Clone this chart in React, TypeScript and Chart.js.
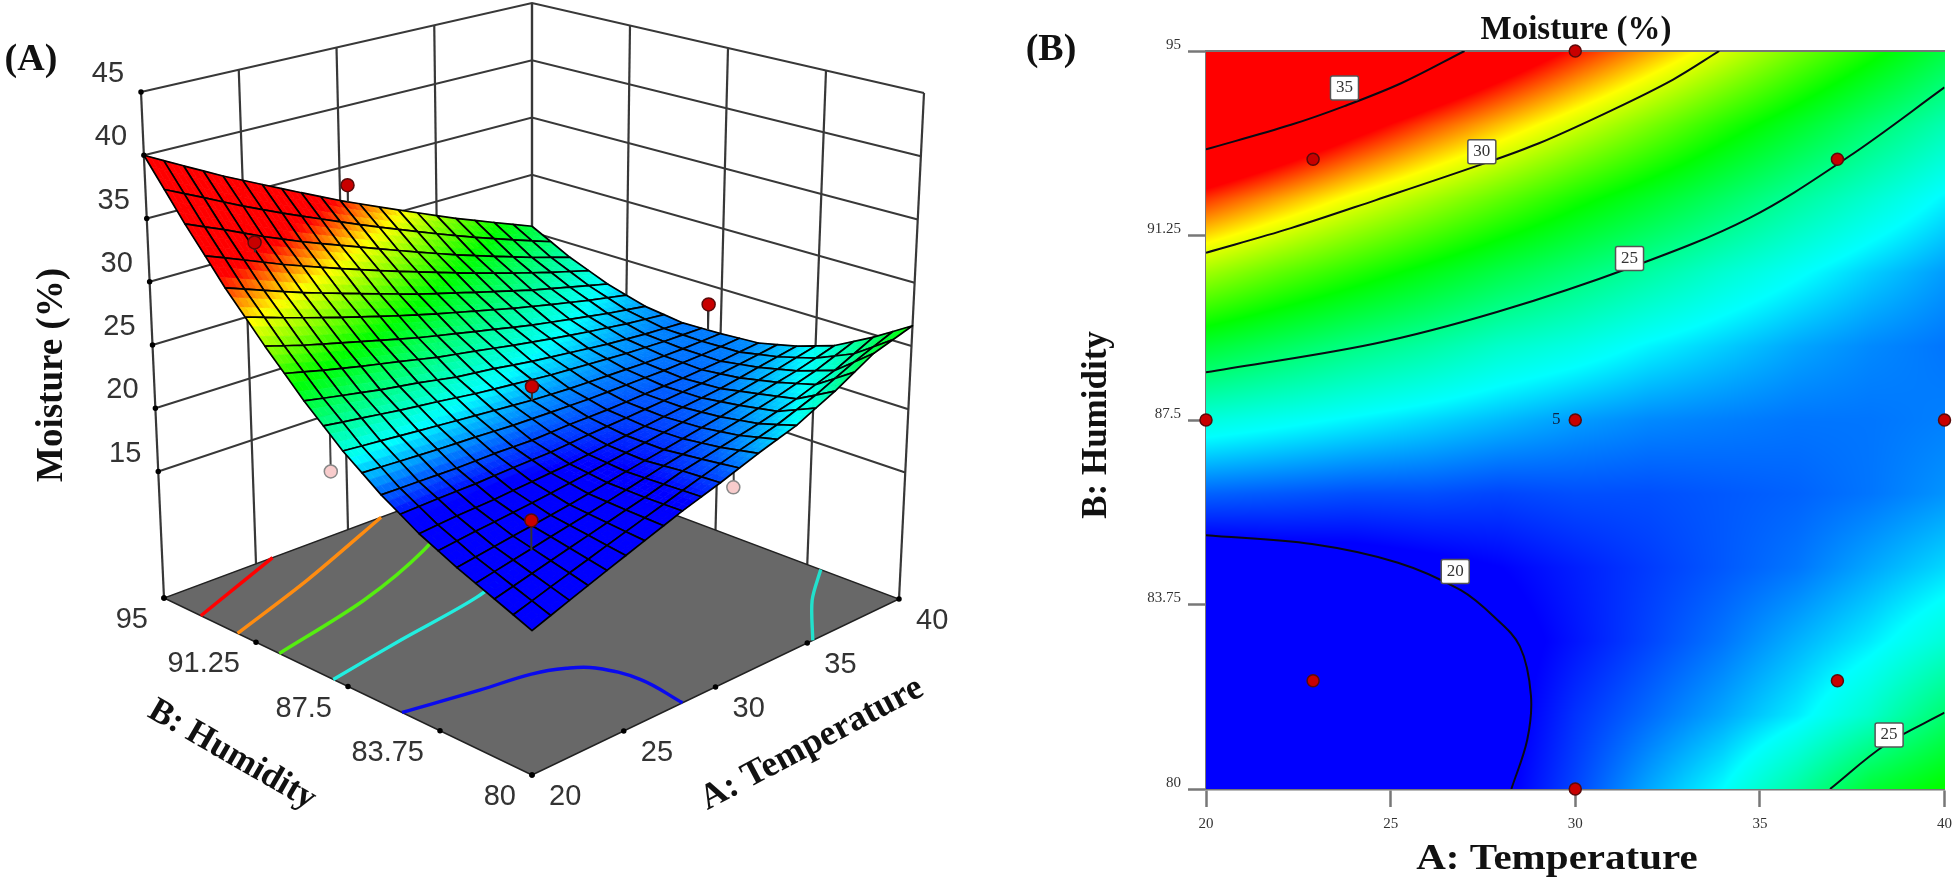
import React, { useEffect, useRef } from 'react';
import { Chart, registerables } from 'chart.js';

Chart.register(...registerables);

// ---------- data ----------
const temperatureNodes = [20, 22, 24, 26, 28, 30, 32, 34, 36, 38, 40];
const humidityNodes = [80, 81.5, 83, 84.5, 86, 87.5, 89, 90.5, 92, 93.5, 95];
const moistureH80 = [15.8, 16.8, 17.8, 18.8, 19.8, 20.7, 21.7, 22.6, 24.0, 25.7, 26.6];
const moistureH815 = [16.9, 17.6, 18.3, 19.0, 19.7, 20.5, 21.1, 21.7, 22.4, 23.4, 24.8];
const moistureH83 = [18.0, 18.4, 18.8, 19.2, 19.7, 20.2, 20.7, 21.2, 21.8, 22.4, 23.2];
const moistureH845 = [19.3, 19.5, 19.6, 19.8, 20.0, 20.3, 20.6, 20.9, 21.2, 21.7, 22.2];
const moistureH86 = [21.0, 20.9, 20.8, 20.8, 20.7, 20.8, 20.8, 20.9, 21.0, 21.2, 21.5];
const moistureH875 = [23.1, 22.8, 22.5, 22.2, 21.9, 21.6, 21.4, 21.3, 21.2, 21.2, 21.3];
const moistureH89 = [25.7, 25.1, 24.5, 24.0, 23.4, 23.0, 22.5, 22.1, 21.7, 21.4, 21.2];
const moistureH905 = [28.7, 27.8, 27.0, 26.2, 25.4, 24.7, 24.0, 23.3, 22.7, 22.1, 21.6];
const moistureH92 = [32.0, 30.9, 29.8, 28.8, 27.8, 26.8, 25.9, 25.0, 24.1, 23.3, 22.5];
const moistureH935 = [35.8, 34.5, 33.1, 31.8, 30.6, 29.4, 28.2, 27.0, 25.9, 24.8, 23.8];
const moistureH95 = [40.0, 38.4, 36.8, 35.3, 33.8, 32.3, 30.9, 29.5, 28.1, 26.8, 25.5];
const moistureRows = [moistureH80, moistureH815, moistureH83, moistureH845, moistureH86, moistureH875, moistureH89, moistureH905, moistureH92, moistureH935, moistureH95];

const temperatureTicks = [20, 25, 30, 35, 40];
const humidityTicks = [80, 83.75, 87.5, 91.25, 95];
const moistureTicks = [15, 20, 25, 30, 35, 40, 45];

// contours of panel B
const contour35T = [20, 22.3, 23.75, 25.3, 27];
const contour35H = [93.0, 93.5, 93.88, 94.35, 95];
const contour30T = [20, 22.3, 24.6, 27.4, 29, 31, 32.65, 33.9];
const contour30H = [90.9, 91.4, 91.97, 92.68, 93.12, 93.8, 94.42, 95];
const contour25UpperT = [20, 24.55, 27.9, 31.5, 34.7, 37.4, 40];
const contour25UpperH = [88.47, 89.05, 89.7, 90.6, 91.6, 92.85, 94.26];
const contour25LowerT = [36.9, 38.4, 40];
const contour25LowerH = [80, 80.9, 81.55];
const contour20T = [20, 22.87, 25.2, 26.9, 27.8, 28.5, 28.8, 28.7, 28.27];
const contour20H = [85.16, 84.98, 84.6, 84.04, 83.5, 82.9, 81.9, 81, 80];
const contourLabelText = ['35', '30', '25', '20', '25'];
const contourLabelT = [23.75, 27.47, 31.47, 26.75, 38.5];
const contourLabelH = [94.25, 92.95, 90.78, 84.42, 81.1];

const designT = [30, 22.9, 37.1, 20, 30, 40, 22.9, 37.1, 30];
const designH = [95, 92.8, 92.8, 87.5, 87.5, 87.5, 82.2, 82.2, 80];

// contours on the floor of panel A
const floorRedT = [20, 25.9];
const floorRedH = [93.5, 95];
const floorOrangeT = [20, 25.5, 31.8];
const floorOrangeH = [92, 93.26, 95];
const floorGreenT = [20, 25.8, 30.8, 36];
const floorGreenH = [90.3, 91.2, 92.5, 94.5];
const floorCyanT = [20, 24.3, 29.2, 33];
const floorCyanH = [88.1, 88.6, 89.14, 90];
const floorBlueT = [20, 23.5, 25.9, 27.2, 28, 28.5, 28.2];
const floorBlueH = [85.3, 84.76, 84.44, 83.99, 83.4, 81.95, 80];
const floorTealT = [35.3, 37.8, 40];
const floorTealH = [80, 81.9, 83.2];

// design points of panel A, split by their side of the surface
const aboveT = [30.4, 22.9, 40, 30, 22.9];
const aboveH = [95, 93, 88, 87.5, 82.2];
const aboveZ = [33.4, 33.5, 23.4, 22.7, 20.5];
const belowT = [20, 30.7, 37.1, 37.1];
const belowH = [88, 80, 92.8, 82.2];
const belowZ = [21.1, 19.9, 23.5, 21.5];

// ---------- helpers ----------
const zip = (xs: number[], ys: number[]) => xs.map((x, i) => ({ x, y: ys[i] }));

function moistureAt(T: number, H: number) {
  const ft = Math.min(9.9999, Math.max(0, (T - 20) / 2));
  const fh = Math.min(9.9999, Math.max(0, (H - 80) / 1.5));
  const i = Math.floor(ft), j = Math.floor(fh);
  const s = ft - i, t = fh - j;
  const r0 = moistureRows[j], r1 = moistureRows[j + 1];
  return (r0[i] * (1 - s) + r0[i + 1] * s) * (1 - t) + (r1[i] * (1 - s) + r1[i + 1] * s) * t;
}

const COLOR_LEVELS = [20, 22.6, 26.5, 30, 32.5];
const COLOR_RGB = [[0, 0, 255], [0, 255, 255], [0, 255, 0], [255, 255, 0], [255, 0, 0]];
function rgbFor(m: number) {
  if (m <= COLOR_LEVELS[0]) return COLOR_RGB[0];
  for (let k = 1; k < COLOR_LEVELS.length; k++) {
    if (m <= COLOR_LEVELS[k]) {
      const f = (m - COLOR_LEVELS[k - 1]) / (COLOR_LEVELS[k] - COLOR_LEVELS[k - 1]);
      const a = COLOR_RGB[k - 1], b = COLOR_RGB[k];
      return [a[0] + (b[0] - a[0]) * f, a[1] + (b[1] - a[1]) * f, a[2] + (b[2] - a[2]) * f];
    }
  }
  return COLOR_RGB[4];
}

// box of the 3D view in the coordinates of the left chart's scales
const FRONT = [[532, 775], [532, 240]];
const LEFT = [[164, 598], [141, 92]];
const RIGHT = [[899, 599], [924, 93]];
const BACK = [[532, 461], [532, 3]];
function project(T: number, H: number, Z: number) {
  const a = (T - 20) / 20, b = (H - 80) / 15, c = (Z - 5) / 40;
  const w = [(1 - a) * (1 - b), (1 - a) * b, a * (1 - b), a * b];
  const set = [FRONT, LEFT, RIGHT, BACK];
  let x = 0, y = 0;
  set.forEach((corner, i) => {
    x += w[i] * (corner[0][0] * (1 - c) + corner[1][0] * c);
    y += w[i] * (corner[0][1] * (1 - c) + corner[1][1] * c);
  });
  return { x, y };
}
const FLOOR_Z = 5;
const TOP_Z = 45;

const line = (label: string, data: any[], color: string, width: number, tension = 0) => ({
  label, data, showLine: true, borderColor: color, borderWidth: width, pointRadius: 0, tension, fill: false,
});
const dots = (label: string, data: any[], fillColor: string, edge: string, radius: number) => ({
  label, data, showLine: false, pointRadius: radius, pointBackgroundColor: fillColor, pointBorderColor: edge, pointBorderWidth: 1.5,
});

function drawSurface(chart: any) {
  const { ctx, scales } = chart;
  const px = (T: number, H: number) => {
    const p = project(T, H, moistureAt(T, H));
    return [scales.x.getPixelForValue(p.x), scales.y.getPixelForValue(p.y)];
  };
  const CELLS = 20, SUB = 3;
  const dT = 20 / CELLS, dH = 15 / CELLS;
  ctx.save();
  ctx.lineJoin = 'round';
  for (let i = CELLS - 1; i >= 0; i--) {
    for (let j = CELLS - 1; j >= 0; j--) {
      const T0 = 20 + i * dT, H0 = 80 + j * dH;
      for (let si = SUB - 1; si >= 0; si--) {
        for (let sj = SUB - 1; sj >= 0; sj--) {
          const t0 = T0 + si * dT / SUB, t1 = t0 + dT / SUB;
          const h0 = H0 + sj * dH / SUB, h1 = h0 + dH / SUB;
          const rgb = rgbFor(moistureAt((t0 + t1) / 2, (h0 + h1) / 2));
          const col = `rgb(${rgb[0] | 0},${rgb[1] | 0},${rgb[2] | 0})`;
          ctx.beginPath();
          [[t0, h0], [t1, h0], [t1, h1], [t0, h1]].forEach((q, k) => {
            const p = px(q[0], q[1]);
            if (k) ctx.lineTo(p[0], p[1]); else ctx.moveTo(p[0], p[1]);
          });
          ctx.closePath();
          ctx.fillStyle = col;
          ctx.strokeStyle = col;
          ctx.lineWidth = 0.7;
          ctx.fill();
          ctx.stroke();
        }
      }
      ctx.beginPath();
      [[T0, H0], [T0 + dT, H0], [T0 + dT, H0 + dH], [T0, H0 + dH]].forEach((q, k) => {
        const p = px(q[0], q[1]);
        if (k) ctx.lineTo(p[0], p[1]); else ctx.moveTo(p[0], p[1]);
      });
      ctx.closePath();
      ctx.strokeStyle = '#000';
      ctx.lineWidth = 1.7;
      ctx.stroke();
    }
  }
  ctx.restore();
}

function text(ctx: any, s: string, x: number, y: number, font: string, color: string, align: any = 'center', angle = 0, stretch = 1) {
  ctx.save();
  ctx.translate(x, y);
  ctx.rotate(angle);
  ctx.scale(stretch, 1);
  ctx.font = font;
  ctx.fillStyle = color;
  ctx.textAlign = align;
  ctx.textBaseline = 'middle';
  ctx.fillText(s, 0, 0);
  ctx.restore();
}

const SERIF_BOLD = (n: number) => `bold ${n}px "Liberation Serif"`;
const TICK_FONT = '29px "Liberation Sans"';

const surfacePlugin = {
  id: 'surface3d',
  beforeDatasetDraw(chart: any, args: any) {
    if (chart.data.datasets[args.index].label === 'surface') drawSurface(chart);
  },
  afterDraw(chart: any) {
    const { ctx, scales } = chart;
    const at = (T: number, H: number, Z: number) => {
      const p = project(T, H, Z);
      return [scales.x.getPixelForValue(p.x), scales.y.getPixelForValue(p.y)];
    };
    moistureTicks.forEach((m) => {
      const p = at(20, 95, m);
      text(ctx, String(m), p[0] - 33, p[1] - 18, TICK_FONT, '#333', 'center');
    });
    humidityTicks.forEach((h) => {
      const p = at(20, h, FLOOR_Z);
      text(ctx, String(h), p[0] - 16, p[1] + 22, TICK_FONT, '#333', 'right');
    });
    temperatureTicks.forEach((t) => {
      const p = at(t, 80, FLOOR_Z);
      text(ctx, String(t), p[0] + 17, p[1] + 22, TICK_FONT, '#333', 'left');
    });
    text(ctx, '(A)', 31, 60, SERIF_BOLD(38), '#111');
    text(ctx, 'Moisture (%)', 52, 375, SERIF_BOLD(37), '#111', 'center', -Math.PI / 2);
    text(ctx, 'B: Humidity', 232, 755, SERIF_BOLD(35), '#111', 'center', (30 * Math.PI) / 180);
    text(ctx, 'A: Temperature', 812, 744, SERIF_BOLD(36), '#111', 'center', (-28 * Math.PI) / 180);
  },
};

function leftConfig(): any {
  const gridColor = '#383838';
  const layers: any[] = [];
  // walls
  [...moistureTicks].forEach((m) => {
    layers.push(line('wall', [project(20, 95, m), project(40, 95, m), project(40, 80, m)], gridColor, 2));
  });
  temperatureTicks.forEach((t) => {
    layers.push(line('wall', [project(t, 95, FLOOR_Z), project(t, 95, TOP_Z)], gridColor, 2.2));
  });
  humidityTicks.forEach((h) => {
    layers.push(line('wall', [project(40, h, FLOOR_Z), project(40, h, TOP_Z)], gridColor, 2.2));
  });
  // floor
  layers.push({
    ...line('floor', [project(20, 80, FLOOR_Z), project(40, 80, FLOOR_Z), project(40, 95, FLOOR_Z), project(20, 95, FLOOR_Z), project(20, 80, FLOOR_Z)], '#222', 1.4),
    fill: 'shape',
    backgroundColor: '#686868',
  });
  const onFloor = (ts: number[], hs: number[]) => ts.map((t, i) => project(t, hs[i], FLOOR_Z));
  layers.push(line('floor 35', onFloor(floorRedT, floorRedH), '#ff0000', 3.4, 0.3));
  layers.push(line('floor 30', onFloor(floorOrangeT, floorOrangeH), '#ff8c10', 3.4, 0.3));
  layers.push(line('floor 25', onFloor(floorGreenT, floorGreenH), '#55ee10', 3.4, 0.3));
  layers.push(line('floor 22', onFloor(floorCyanT, floorCyanH), '#22eee0', 3.4, 0.3));
  layers.push(line('floor 20', onFloor(floorBlueT, floorBlueH), '#0a0aee', 3.4, 0.4));
  layers.push(line('floor teal', onFloor(floorTealT, floorTealH), '#22e0cc', 3.4, 0.3));
  // ticks
  layers.push(dots('ticks', [
    ...moistureTicks.map((m) => project(20, 95, m)),
    project(20, 95, FLOOR_Z),
    ...humidityTicks.map((h) => project(20, h, FLOOR_Z)),
    ...temperatureTicks.map((t) => project(t, 80, FLOOR_Z)),
  ], '#000', '#000', 2));
  // points under the surface
  belowT.forEach((t, i) => {
    layers.push(line('stem', [project(t, belowH[i], belowZ[i]), project(t, belowH[i], moistureAt(t, belowH[i]))], '#444', 2));
  });
  layers.push(dots('below', zip(belowT, belowH).map((p, i) => project(p.x, p.y, belowZ[i])), '#f8cccc', '#888', 6.5));
  layers.push({ label: 'surface', data: [], showLine: false, pointRadius: 0 });
  // points above the surface
  aboveT.forEach((t, i) => {
    layers.push(line('stem', [project(t, aboveH[i], aboveZ[i]), project(t, aboveH[i], moistureAt(t, aboveH[i]))], '#333', 2));
  });
  layers.push(dots('above', zip(aboveT, aboveH).map((p, i) => project(p.x, p.y, aboveZ[i])), '#c80000', '#5a0a0a', 6.5));
  layers.forEach((d, i) => { d.order = layers.length - i; });
  return {
    type: 'scatter',
    data: { datasets: layers },
    plugins: [surfacePlugin],
    options: {
      responsive: false,
      animation: false,
      clip: false,
      layout: { padding: 0, autoPadding: false },
      plugins: { legend: { display: false }, tooltip: { enabled: false }, title: { display: false } },
      scales: {
        x: { type: 'linear', display: false, min: 0, max: 980 },
        y: { type: 'linear', display: false, min: 0, max: 884, reverse: true },
      },
    },
  };
}

const RIGHT_X = 980;
const heatPlugin = {
  id: 'heat',
  beforeDatasetsDraw(chart: any) {
    const { ctx, scales } = chart;
    const x = scales.x, y = scales.y;
    const l = Math.round(x.getPixelForValue(20)), r = Math.round(x.getPixelForValue(40));
    const t = Math.round(y.getPixelForValue(95)), b = Math.round(y.getPixelForValue(80));
    const w = r - l, h = b - t;
    const off = document.createElement('canvas');
    off.width = w; off.height = h;
    const oc = off.getContext('2d') as CanvasRenderingContext2D;
    const img = oc.createImageData(w, h);
    for (let py = 0; py < h; py++) {
      const H = y.getValueForPixel(t + py + 0.5);
      for (let px = 0; px < w; px++) {
        const T = x.getValueForPixel(l + px + 0.5);
        const c = rgbFor(moistureAt(T, H));
        const k = (py * w + px) * 4;
        img.data[k] = c[0]; img.data[k + 1] = c[1]; img.data[k + 2] = c[2]; img.data[k + 3] = 255;
      }
    }
    oc.putImageData(img, 0, 0);
    ctx.drawImage(off, l, t);
    ctx.save();
    ctx.strokeStyle = '#777';
    ctx.lineWidth = 2;
    ctx.beginPath();
    ctx.moveTo(l, t);
    ctx.lineTo(r, t);
    ctx.stroke();
    ctx.restore();
  },
  afterDraw(chart: any) {
    const { ctx, scales } = chart;
    contourLabelText.forEach((s, i) => {
      const cx = scales.x.getPixelForValue(contourLabelT[i]);
      const cy = scales.y.getPixelForValue(contourLabelH[i]);
      ctx.save();
      ctx.fillStyle = '#fff';
      ctx.strokeStyle = '#555';
      ctx.lineWidth = 1.5;
      ctx.beginPath();
      ctx.roundRect(cx - 14, cy - 12, 28, 24, 2);
      ctx.fill();
      ctx.stroke();
      ctx.restore();
      text(ctx, s, cx, cy, '17px "Liberation Serif"', '#333');
    });
    text(ctx, '5', scales.x.getPixelForValue(30) - 19, scales.y.getPixelForValue(87.5), '17px "Liberation Serif"', '#124');
    text(ctx, '(B)', 1051 - RIGHT_X, 50, SERIF_BOLD(38), '#111');
    text(ctx, 'Moisture (%)', 1576 - RIGHT_X, 30, SERIF_BOLD(33), '#111');
    text(ctx, 'B: Humidity', 1097 - RIGHT_X, 425, SERIF_BOLD(35), '#111', 'center', -Math.PI / 2);
    text(ctx, 'A: Temperature', 1557 - RIGHT_X, 860, SERIF_BOLD(36), '#111', 'center', 0, 1.14);
  },
};

function rightConfig(): any {
  const axisFont = { family: '"Liberation Serif"', size: 15 };
  const contour = (label: string, ts: number[], hs: number[]) => line(label, zip(ts, hs), '#0a0a14', 2, 0.35);
  const layers: any[] = [
    contour('35', contour35T, contour35H),
    contour('30', contour30T, contour30H),
    contour('25', contour25UpperT, contour25UpperH),
    contour('25b', contour25LowerT, contour25LowerH),
    contour('20', contour20T, contour20H),
    { ...dots('design', zip(designT, designH), '#c80000', '#5a0a0a', 6), clip: false },
  ];
  layers.forEach((d, i) => { d.order = layers.length - i; });
  return {
    type: 'scatter',
    data: { datasets: layers },
    plugins: [heatPlugin],
    options: {
      responsive: false,
      animation: false,
      layout: { padding: { top: 51, right: 12, left: 0, bottom: 0 }, autoPadding: false },
      plugins: { legend: { display: false }, tooltip: { enabled: false }, title: { display: false } },
      scales: {
        x: {
          type: 'linear', min: 20, max: 40,
          afterBuildTicks: (s: any) => { s.ticks = temperatureTicks.map((value) => ({ value })); },
          afterFit: (s: any) => { s.height = 95; },
          grid: { display: true, drawOnChartArea: false, tickLength: 18, tickColor: '#777', tickWidth: 2.5 },
          border: { color: '#777', width: 2.5 },
          ticks: { autoSkip: false, maxRotation: 0, font: axisFont, color: '#333', padding: 8 },
        },
        y: {
          type: 'linear', min: 80, max: 95,
          afterBuildTicks: (s: any) => { s.ticks = humidityTicks.map((value) => ({ value })); },
          afterFit: (s: any) => { s.width = 226; },
          grid: { display: true, drawOnChartArea: false, tickLength: 18, tickColor: '#777', tickWidth: 2.5 },
          border: { color: '#777', width: 2.5 },
          ticks: { autoSkip: false, font: axisFont, color: '#333', padding: 7, labelOffset: -6, callback: (v: any) => String(v) },
        },
      },
    },
  };
}

export default function App() {
  const leftRef = useRef<HTMLCanvasElement>(null);
  const rightRef = useRef<HTMLCanvasElement>(null);
  useEffect(() => {
    const a = new Chart(leftRef.current as HTMLCanvasElement, leftConfig());
    const b = new Chart(rightRef.current as HTMLCanvasElement, rightConfig());
    return () => { a.destroy(); b.destroy(); };
  }, []);
  const soft = 'blur(0.6px)';
  return (
    <div style={{ position: 'fixed', left: 0, top: 0, width: 1960, height: 884, background: '#fff', overflow: 'hidden' }}>
      <canvas ref={leftRef} width={980} height={884} style={{ position: 'absolute', left: 0, top: 0, width: 980, height: 884, filter: soft }} />
      <canvas ref={rightRef} width={980} height={884} style={{ position: 'absolute', left: RIGHT_X, top: 0, width: 980, height: 884, filter: soft }} />
    </div>
  );
}
